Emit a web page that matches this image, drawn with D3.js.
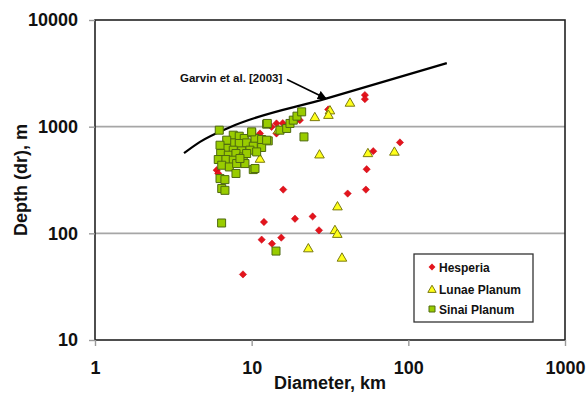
<!DOCTYPE html>
<html><head><meta charset="utf-8">
<script src="https://cdn.jsdelivr.net/npm/d3@7"></script>
<style>body{margin:0;background:#fff}svg{display:block}text{font-family:"Liberation Sans",Arial,sans-serif;font-weight:bold}</style>
</head><body><svg id="c" width="587" height="399"></svg>
<script>
// Data: [diameter km, depth m]
const hesperia = [[8.80,41.2],[11.58,87.3],[13.48,80],[15.45,91.1],[11.98,127.7],[18.9,137],[24.5,144],[26.9,106.7],[15.9,257],[41.0,236],[53.6,257],[54.2,399],[59.7,589],[88.4,711],[52.8,1977],[52.8,1812],[30.8,1450],[20.3,1151],[19.4,1170],[15.8,1079],[14.4,863],[14.4,1072],[11.3,863],[13.4,995],[5.98,391],[6.12,364]];
const lunae = [[11.3,503],[27.1,552],[55.2,568],[81.5,586],[35.3,180],[34.0,108],[35.2,99.4],[23.0,72.8],[37.7,59.5],[42.4,1687],[25.3,1236],[31.6,1429],[30.9,1297],[14.8,942]];
const sinai = [[6.21,927],[7.63,832],[8.33,814],[8.97,775],[10.0,875],[10.5,775],[11.58,758],[12.76,736],[12.46,1056],[7.45,705],[8.33,696],[9.29,705],[10.24,656],[11.58,638],[6.93,624],[7.63,602],[8.64,593],[9.75,602],[10.76,580],[6.34,560],[7.09,540],[7.94,560],[8.84,520],[6.12,492],[6.85,492],[7.63,485],[6.44,435],[7.20,419],[8.02,451],[9.06,451],[10.24,396],[7.94,364],[6.28,326],[6.75,319],[6.44,263],[6.75,253],[6.93,747],[6.28,670],[9.29,560],[8.42,503],[10.5,405],[12.46,747],[15.16,927],[16.73,962],[17.56,1072],[18.43,1151],[19.46,1255],[20.85,1377],[21.57,802],[10.0,894],[12.58,1072],[6.43,125],[14.3,68.2]];
const garvin = [[3.70,564],[4.68,720],[7.27,989],[30.2,1841],[176,3945]];
const xTicks = [1,10,100,1000];
const yTicks = [10,100,1000,10000];
const seriesNames = ["Hesperia","Lunae Planum","Sinai Planum"];

const svg = d3.select("#c");
const L=95,R=565,T=20,B=340;
const x = d3.scaleLog().domain([1,1000]).range([L,R]);
const y = d3.scaleLog().domain([10,10000]).range([B,T]);

// gridlines
svg.append("g").selectAll("line").data([100,1000]).join("line")
  .attr("x1",L).attr("x2",R).attr("y1",d=>y(d)).attr("y2",d=>y(d))
  .attr("stroke","#a6a6a6").attr("stroke-width",1.6);

// frame
svg.append("rect").attr("x",L).attr("y",T).attr("width",R-L).attr("height",B-T)
  .attr("fill","none").attr("stroke","#222").attr("stroke-width",1.6);

const ya = svg.append("g").attr("transform",`translate(${L},0)`)
  .call(d3.axisLeft(y).tickValues(yTicks).tickFormat(d3.format("d")).tickSize(6).tickPadding(11));
const xa = svg.append("g").attr("transform",`translate(0,${B})`)
  .call(d3.axisBottom(x).tickValues(xTicks).tickFormat(d3.format("d")).tickSize(6).tickPadding(15.5));
[ya,xa].forEach(a=>{
  a.select(".domain").remove();
  a.selectAll(".tick line").attr("stroke","#999").attr("stroke-width",1.4);
  a.selectAll("text").attr("font-size",18).attr("fill","#111").attr("font-family","Liberation Sans, Arial, sans-serif").attr("font-weight","bold");
});

// axis titles
svg.append("text").attr("transform","rotate(-90)").attr("x",-(T+B)/2).attr("y",27)
  .attr("text-anchor","middle").attr("font-size",18).attr("fill","#111").text("Depth (dr), m");
svg.append("text").attr("x",(L+R)/2).attr("y",389).attr("text-anchor","middle")
  .attr("font-size",18).attr("fill","#111").text("Diameter, km");

// Garvin curve
svg.append("path").datum(garvin)
  .attr("d",d3.line().x(d=>x(d[0])).y(d=>y(d[1])).curve(d3.curveMonotoneX))
  .attr("fill","none").attr("stroke","#000").attr("stroke-width",2.2);

// annotation
svg.append("defs").append("marker").attr("id","ah").attr("viewBox","0 0 10 10")
  .attr("refX",9).attr("refY",5).attr("markerWidth",9).attr("markerHeight",9)
  .attr("markerUnits","userSpaceOnUse").attr("orient","auto")
  .append("path").attr("d","M0,0L10,5L0,10z").attr("fill","#000");
svg.append("text").attr("x",180).attr("y",82).attr("font-size",11.5).attr("fill","#111").text("Garvin et al. [2003]");
svg.append("line").attr("x1",287).attr("y1",79.5).attr("x2",326).attr("y2",98.5)
  .attr("stroke","#000").attr("stroke-width",1.6).attr("marker-end","url(#ah)");

// symbols
const diamond = d3.symbol().type(d3.symbolDiamond2).size(34);
const tri = d3.symbol().type(d3.symbolTriangle).size(40);
const sq = d3.symbol().type(d3.symbolSquare).size(64);

svg.append("g").selectAll("path").data(hesperia).join("path")
  .attr("transform",d=>`translate(${x(d[0])},${y(d[1])})`).attr("d",diamond)
  .attr("fill","#e3141c").attr("stroke","#c80010").attr("stroke-width",0.5);
svg.append("g").selectAll("path").data(lunae).join("path")
  .attr("transform",d=>`translate(${x(d[0])},${y(d[1])+1})`).attr("d",tri)
  .attr("fill","#ffff1a").attr("stroke","#7a7a10").attr("stroke-width",1);
svg.append("g").selectAll("path").data(sinai).join("path")
  .attr("transform",d=>`translate(${x(d[0])},${y(d[1])})`).attr("d",sq)
  .attr("fill","#99cc00").attr("stroke","#4f6a10").attr("stroke-width",1);

// legend
const lg = svg.append("g");
lg.append("rect").attr("x",414).attr("y",254).attr("width",119).attr("height",68)
  .attr("fill","#fff").attr("stroke","#333").attr("stroke-width",1.3);
const rows=[267,289,309];
lg.append("path").attr("transform",`translate(432,${rows[0]})`).attr("d",d3.symbol().type(d3.symbolDiamond2).size(30)).attr("fill","#e3141c");
lg.append("path").attr("transform",`translate(432,${rows[1]+1})`).attr("d",d3.symbol().type(d3.symbolTriangle).size(30)).attr("fill","#ffff1a").attr("stroke","#7a7a10").attr("stroke-width",1);
lg.append("path").attr("transform",`translate(432,${rows[2]})`).attr("d",d3.symbol().type(d3.symbolSquare).size(36)).attr("fill","#99cc00").attr("stroke","#4f6a10").attr("stroke-width",1);
lg.selectAll("text.l").data(seriesNames).join("text").attr("class","l")
  .attr("x",439).attr("y",(d,i)=>rows[i]+4.5).attr("font-size",12).attr("fill","#111").text(d=>d);
</script></body></html>
